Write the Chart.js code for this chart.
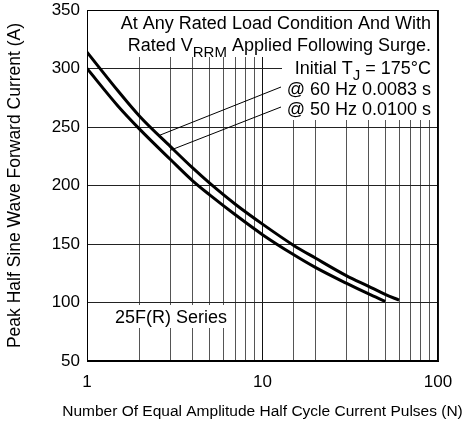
<!DOCTYPE html>
<html><head><meta charset="utf-8">
<script src="https://cdn.jsdelivr.net/npm/chart.js@4.4.1/dist/chart.umd.min.js"></script>
<style>html,body{margin:0;padding:0;background:#fff}</style>
</head><body>
<canvas id="c" width="465" height="425" style="display:block;width:465px;height:425px"></canvas>
<script>
// ---- data ----
const pulses60 = [1, 1.5, 2, 3, 4, 5, 7, 10, 15, 20, 30, 40, 50, 60];
const current60 = [314, 281, 259, 233, 215, 202, 184, 167, 149, 138, 123, 114, 107, 102];
const pulses50 = [1, 1.5, 2, 3, 4, 5, 7, 10, 15, 20, 30, 40, 50];
const current50 = [300, 268, 248, 222, 204, 192, 175, 158, 141, 130, 116.5, 107.5, 101];
const xTickLabels = [1, 10, 100];
const yTicks = [50, 100, 150, 200, 250, 300, 350];
const xTitle = 'Number Of Equal Amplitude Half Cycle Current Pulses (N)';
const yTitle = 'Peak Half Sine Wave Forward Current (A)';
const noteLines = ['At Any Rated Load Condition And With', 'Rated V|RRM| Applied Following Surge.', 'Initial T|J| = 175°C', '@ 60 Hz 0.0083 s', '@ 50 Hz 0.0100 s'];
const seriesLabel = '25F(R) Series';
const leaderStarts = [[2.6, 243], [2.97, 230]];

const FONT = '"Liberation Sans", Arial, Helvetica, sans-serif';
Chart.defaults.font.family = FONT;
Chart.defaults.color = '#000';

function pts(xs, ys) { return xs.map((x, i) => ({x, y: ys[i]})); }

function drawRich(ctx, str, rightX, baseY, size, subSize, subDrop) {
  const parts = str.split('|');
  const widths = parts.map((p, i) => {
    ctx.font = (i % 2 ? subSize : size) + 'px ' + FONT;
    return ctx.measureText(p).width;
  });
  const total = widths.reduce((a, b) => a + b, 0);
  let x = rightX - total;
  parts.forEach((p, i) => {
    ctx.font = (i % 2 ? subSize : size) + 'px ' + FONT;
    ctx.fillText(p, x, baseY + (i % 2 ? subDrop : 0));
    x += widths[i];
  });
}

const notes = {
  id: 'notes',
  beforeDatasetsDraw(chart) {
    const {ctx, chartArea: a} = chart;
    ctx.save();
    ctx.fillStyle = '#fff';
    ctx.fillRect(a.left + 1, a.top + 1, a.right - a.left - 2, 46);
    ctx.fillRect(a.left + 195, a.top + 46, a.right - a.left - 196, 64);
    ctx.fillRect(a.left + 25, a.top + 295, 119, 23);
    ctx.restore();
  },
  afterDatasetsDraw(chart) {
    const {ctx, chartArea: a, scales} = chart;
    ctx.save();
    ctx.strokeStyle = '#000';
    ctx.lineWidth = 1;
    const ends = [[a.left + 194, a.top + 77], [a.left + 194, a.top + 97]];
    leaderStarts.forEach((s, i) => {
      ctx.beginPath();
      ctx.moveTo(scales.x.getPixelForValue(s[0]), scales.y.getPixelForValue(s[1]));
      ctx.lineTo(ends[i][0], ends[i][1]);
      ctx.stroke();
    });
    ctx.fillStyle = '#000';
    ctx.textAlign = 'left';
    ctx.textBaseline = 'alphabetic';
    const rx = a.right - 7;
    const bases = [19, 41, 64, 85, 105];
    noteLines.forEach((t, i) => drawRich(ctx, t, rx, a.top + bases[i], 18, 15, 6));
    ctx.font = '18px ' + FONT;
    ctx.fillText(seriesLabel, a.left + 28, a.top + 313);
    ctx.strokeStyle = '#000';
    ctx.strokeRect(Math.round(a.left) + 0.5, Math.round(a.top) + 0.5, Math.round(a.right - a.left) - 1, Math.round(a.bottom - a.top) - 1);
    // axis titles
    ctx.textAlign = 'center';
    ctx.textBaseline = 'middle';
    ctx.font = '15.5px ' + FONT;
    ctx.fillText(xTitle, (a.left + a.right) / 2, a.bottom + 51);
    ctx.save();
    ctx.translate(15, (a.top + a.bottom) / 2);
    ctx.rotate(-Math.PI / 2);
    ctx.font = '17.5px ' + FONT;
    ctx.fillText(yTitle, 0, 0);
    ctx.restore();
    ctx.restore();
  }
};

new Chart(document.getElementById('c'), {
  type: 'line',
  data: {
    datasets: [
      {label: '@ 60 Hz 0.0083 s', data: pts(pulses60, current60), borderColor: '#000', borderWidth: 3, pointRadius: 0, cubicInterpolationMode: 'monotone', fill: false},
      {label: '@ 50 Hz 0.0100 s', data: pts(pulses50, current50), borderColor: '#000', borderWidth: 3, pointRadius: 0, cubicInterpolationMode: 'monotone', fill: false}
    ]
  },
  options: {
    responsive: false,
    animation: false,
    devicePixelRatio: 1,
    layout: {padding: {top: 10, right: 27, left: 0, bottom: 0}},
    plugins: {legend: {display: false}, tooltip: {enabled: false}},
    scales: {
      x: {
        type: 'logarithmic', min: 1, max: 100,
        afterFit(s) { s.height = 64; s.paddingLeft = 0; s.paddingRight = 0; },
        grid: {
          drawTicks: false,
          color: ctx => (ctx.tick && xTickLabels.includes(ctx.tick.value)) ? '#111' : '#555',
          lineWidth: 1
        },
        border: {display: true, color: '#000'},
        ticks: {
          autoSkip: false, maxRotation: 0, padding: 11,
          font: {size: 17},
          callback: v => xTickLabels.includes(v) ? String(v) : ''
        }
      },
      y: {
        type: 'linear', min: 50, max: 350,
        afterFit(s) { s.width = 87; s.paddingTop = 0; s.paddingBottom = 0; },
        afterBuildTicks(s) { s.ticks = yTicks.map(v => ({value: v})); },
        grid: {drawTicks: false, color: '#222', lineWidth: 1},
        border: {display: true, color: '#000'},
        ticks: {padding: 7, font: {size: 17}}
      }
    }
  },
  plugins: [notes]
});
</script>
</body></html>
